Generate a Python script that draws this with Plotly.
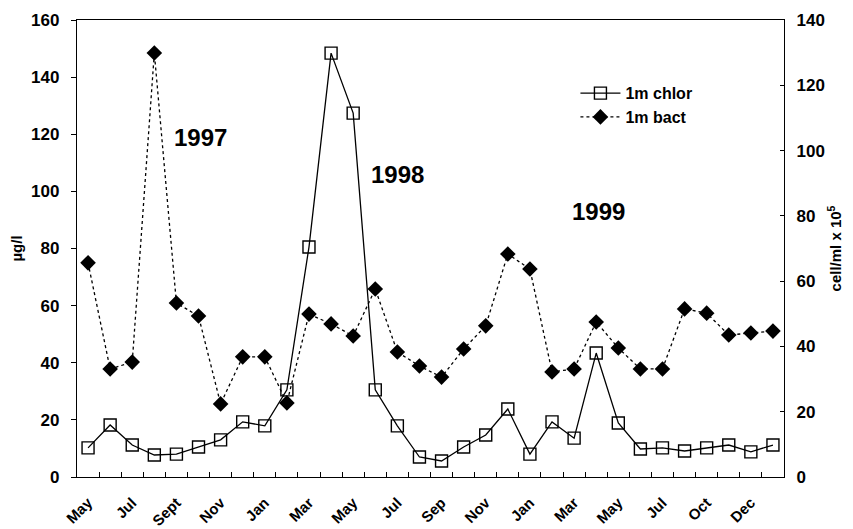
import plotly.graph_objects as go

# sample index (one per sampling date)
n_points = 32
x_idx = list(range(n_points))

# x tick labels (every second sample)
tick_labels = ["May", "Jul", "Sept", "Nov", "Jan", "Mar", "May", "Jul",
               "Sep", "Nov", "Jan", "Mar", "May", "Jul", "Oct", "Dec"]

# 1m chlorophyll (µg/l), left axis
chlor = [10.2, 18.2, 11.2, 7.7, 8.0, 10.5, 13.0, 19.3, 17.9, 30.5, 80.5, 148.4,
         127.4, 30.5, 17.9, 7.0, 5.6, 10.5, 14.7, 23.8, 8.0, 19.3, 13.6, 43.4,
         18.9, 9.8, 10.2, 9.1, 10.2, 11.2, 8.8, 11.2]

# 1m bacteria (cell/ml x 10^5), right axis
bact = [65.6, 33.1, 35.2, 129.9, 53.3, 49.3, 22.4, 36.8, 36.8, 22.7, 49.9, 46.9,
        43.2, 57.6, 38.3, 34.0, 30.6, 39.2, 46.3, 68.3, 63.7, 32.2, 33.1, 47.5,
        39.5, 33.1, 33.1, 51.5, 50.2, 43.5, 44.1, 44.7]

year_labels = ["1997", "1998", "1999"]
year_x = [5.1, 14.0, 23.1]
year_y = [119, 106, 93]

FONT = "Liberation Sans, Arial, sans-serif"

fig = go.Figure()
fig.add_trace(go.Scatter(
    x=x_idx, y=chlor, name="1m chlor", mode="lines+markers",
    line=dict(color="black", width=1.3),
    marker=dict(symbol="square-open", size=12, color="black", line=dict(width=1.4)),
))
fig.add_trace(go.Scatter(
    x=x_idx, y=bact, name="1m bact", mode="lines+markers", yaxis="y2",
    line=dict(color="black", width=1.3, dash="dot"),
    marker=dict(symbol="diamond", size=12, color="black"),
))

for t, xx, yy in zip(year_labels, year_x, year_y):
    fig.add_annotation(x=xx, y=yy, text=t, showarrow=False, xref="x", yref="y",
                       font=dict(family=FONT, size=24, color="black", weight="bold"))

# the page body adds an 8px offset, so the figure is sized to fit the window
fig.update_layout(
    width=845, height=521,
    margin=dict(l=69, r=69, t=12, b=52),
    plot_bgcolor="white", paper_bgcolor="white",
    font=dict(family=FONT, color="black"),
    showlegend=True,
    legend=dict(x=0.705, y=0.877, xanchor="left", yanchor="top",
                bgcolor="rgba(0,0,0,0)", tracegroupgap=0, itemwidth=40,
                font=dict(family=FONT, size=16, color="black", weight="bold")),
    xaxis=dict(
        range=[-0.5, n_points - 0.5],
        automargin=False,
        tickmode="array",
        tickvals=x_idx[::2],
        ticktext=tick_labels,
        tickangle=-45,
        ticklabelstandoff=10,
        ticks="", showgrid=False, zeroline=False,
        showline=True, linecolor="black", linewidth=1.3, mirror=True,
        tickfont=dict(family=FONT, size=15, color="black", weight="bold"),
        minor=dict(tickmode="array", tickvals=[i + 0.5 for i in x_idx[:-1]],
                   ticks="inside", ticklen=5, tickcolor="black", showgrid=False),
    ),
    yaxis=dict(
        range=[0, 160], dtick=20, ticks="outside", ticklen=5, tickcolor="black",
        automargin=False,
        showgrid=False, zeroline=False,
        showline=True, linecolor="black", linewidth=1.3,
        ticklabelstandoff=8,
        tickfont=dict(family=FONT, size=17, color="black", weight="bold"),
        title=dict(text="µg/l", standoff=16,
                   font=dict(family=FONT, size=15, color="black", weight="bold")),
    ),
    yaxis2=dict(
        range=[0, 140], dtick=20, overlaying="y", side="right",
        automargin=False,
        ticks="inside", ticklen=4, tickcolor="black",
        showgrid=False, zeroline=False,
        showline=True, linecolor="black", linewidth=1.3,
        ticklabelstandoff=8,
        tickfont=dict(family=FONT, size=17, color="black", weight="bold"),
        title=dict(text="cell/ml x 10<sup>5</sup>", standoff=6,
                   font=dict(family=FONT, size=15, color="black", weight="bold")),
    ),
)

fig.write_html("out.html")
